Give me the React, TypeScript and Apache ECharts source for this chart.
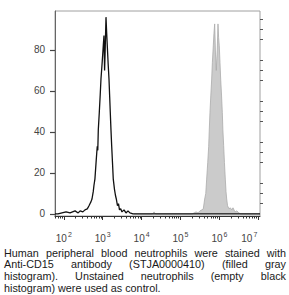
import React, { useEffect, useRef } from "react";
import * as echarts from "echarts";

// log10 of fluorescence intensity and event counts
const unstainedLog = [1.774, 1.851, 1.954, 2.06, 2.16, 2.29, 2.37, 2.42, 2.49, 2.545, 2.604, 2.648, 2.673, 2.70, 2.725, 2.758, 2.776, 2.80, 2.833, 2.848, 2.861, 2.874, 2.887, 2.913, 2.936, 2.956, 2.987, 3.015, 3.033, 3.049, 3.064, 3.085, 3.103, 3.118, 3.141, 3.162, 3.18, 3.195, 3.213, 3.231, 3.252, 3.272, 3.303, 3.329, 3.35, 3.38, 3.406, 3.432, 3.463, 3.496, 3.548, 3.599, 3.65, 3.70, 3.779, 7.044];
const unstainedCount = [0, 0, 0.5, 1, 0.5, 1.5, 0.5, 1.5, 1, 2, 2.5, 4, 5, 6, 7.3, 11, 14, 17, 26, 30, 33, 31, 41, 49.6, 58, 65.8, 74, 82, 87, 70, 80, 96, 88, 82, 73, 65.8, 57, 49.6, 41, 33.3, 25, 17, 12, 9, 7.3, 4, 5, 2, 2.5, 1, 2, 0.5, 1.5, 0.5, 0, 0];

const stainedLog = [3.8, 4.28, 4.32, 4.36, 5.30, 5.35, 5.40, 5.45, 5.50, 5.55, 5.586, 5.622, 5.65, 5.673, 5.70, 5.725, 5.74, 5.758, 5.78, 5.802, 5.82, 5.843, 5.86, 5.879, 5.90, 5.92, 5.945, 5.964, 5.98, 5.997, 6.015, 6.033, 6.055, 6.075, 6.09, 6.11, 6.13, 6.152, 6.17, 6.188, 6.21, 6.247, 6.28, 6.32, 6.35, 6.40, 6.45, 6.50, 6.55, 7.044];
const stainedCount = [0, 0, 1, 0, 0, 0.5, 1, 0.5, 1.5, 2, 2.5, 7.3, 10, 17, 25, 33, 41, 49.6, 58, 65.8, 74, 82, 88, 92.7, 78, 70, 80, 92.7, 86, 82, 74, 65.8, 58, 49.6, 41, 33.3, 25, 17, 11, 7.3, 4, 2.5, 3, 2, 3, 1, 1.5, 0.5, 0, 0];

const xMajorTicks = [2, 3, 4, 5, 6, 7];
const yMajorTicks = [0, 20, 40, 60, 80];
const yMinorTicks = [5, 10, 15, 25, 30, 35, 45, 50, 55, 65, 70, 75, 85, 90, 95];

const CAPTION_LINES = [
  "Human peripheral blood neutrophils were stained with",
  "Anti-CD15 antibody (STJA0000410) (filled gray",
  "histogram). Unstained neutrophils (empty black",
  "histogram) were used as control.",
];

const X_MIN = 1.774;
const X_MAX = 7.044;

function xMinorTicks(): number[] {
  const out: number[] = [];
  for (let d = 1; d <= 6; d++) {
    for (let k = 2; k <= 9; k++) {
      const v = d + Math.log10(k);
      if (v >= X_MIN && v <= X_MAX) out.push(v);
    }
  }
  return out;
}

const FONT = '"Liberation Sans", Arial, Helvetica, sans-serif';

export default function App() {
  const ref = useRef<HTMLDivElement>(null);
  useEffect(() => {
    if (!ref.current) return;
    const chart = echarts.init(ref.current, null, { renderer: "svg" });

    // caption, justified like the original
    const FS = 10.8;
    const LEFT = 4;
    const RIGHT = 286;
    const W = RIGHT - LEFT;
    const canvas = document.createElement("canvas");
    const ctx = canvas.getContext("2d")!;
    ctx.font = `${FS}px "Liberation Sans"`;
    const spaceW = ctx.measureText(" ").width;
    const graphics: any[] = [];
    CAPTION_LINES.forEach((line, i) => {
      const words = line.split(" ");
      const widths = words.map((w) => ctx.measureText(w).width);
      const sum = widths.reduce((a, b) => a + b, 0);
      const last = i === CAPTION_LINES.length - 1;
      const gap = last ? spaceW : (W - sum) / (words.length - 1);
      let x = LEFT;
      const y = 252.8 + i * 11.6;
      words.forEach((w, j) => {
        graphics.push({
          type: "text",
          x,
          y,
          silent: true,
          style: {
            text: w,
            fontSize: FS,
            fontFamily: FONT,
            fill: "#1a1a1a",
            textAlign: "left",
            textVerticalAlign: "middle",
            align: "left",
            verticalAlign: "middle",
          },
        });
        x += widths[j] + gap;
      });
    });

    const axisLabelColor = "#444";
    chart.setOption({
      animation: false,
      grid: {
        left: 55,
        top: 11,
        width: 205,
        height: 205,
        show: true,
        borderColor: "#a0a0a0",
        borderWidth: 1,
        backgroundColor: "transparent",
      },
      xAxis: [
        {
          type: "value",
          min: X_MIN,
          max: X_MAX,
          position: "bottom",
          axisLine: { show: true, onZero: false, lineStyle: { color: "#333", width: 1 } },
          splitLine: { show: false },
          axisTick: { show: true, length: 4, customValues: xMajorTicks, lineStyle: { color: "#333" } },
          axisLabel: {
            show: true,
            customValues: xMajorTicks,
            margin: 15,
            formatter: (v: number) => {
              const e = Math.round(v);
              return e === 7 ? `{b|10}{l|${e}}` : `{b|10}{s|${e}}`;
            },
            rich: {
              b: { fontSize: 10, fontFamily: FONT, color: axisLabelColor },
              s: { fontSize: 7, fontFamily: FONT, color: axisLabelColor, padding: [0, 0, 7, 1] },
              l: { fontSize: 7, fontFamily: FONT, color: axisLabelColor, padding: [0, 18, 7, 1] },
            },
          },
        },
        {
          type: "value",
          min: X_MIN,
          max: X_MAX,
          position: "bottom",
          axisLine: { show: false, onZero: false },
          splitLine: { show: false },
          axisTick: { show: true, length: 2.5, customValues: xMinorTicks(), lineStyle: { color: "#333" } },
          axisLabel: { show: false },
        },
      ],
      yAxis: [
        {
          type: "value",
          min: -1,
          max: 99,
          axisLine: { show: true, onZero: false, lineStyle: { color: "#666" } },
          splitLine: { show: false },
          axisTick: { show: true, length: 5, customValues: yMajorTicks, lineStyle: { color: "#444", width: 1.2 } },
          axisLabel: {
            show: true,
            customValues: yMajorTicks,
            margin: 10,
            fontSize: 10,
            fontFamily: FONT,
            color: axisLabelColor,
            padding: [5, 0, 0, 0],
          },
        },
        {
          type: "value",
          min: -1,
          max: 99,
          axisLine: { show: false, onZero: false },
          splitLine: { show: false },
          axisTick: { show: true, length: 3, customValues: yMinorTicks, lineStyle: { color: "#555" } },
          axisLabel: { show: false },
        },
      ],
      series: [
        {
          type: "line",
          name: "Anti-CD15",
          xAxisIndex: 0,
          yAxisIndex: 0,
          data: stainedLog.map((x, i) => [x, stainedCount[i]]),
          symbol: "none",
          lineStyle: { color: "#ababab", width: 0.8 },
          areaStyle: { color: "#cbcbcb", opacity: 1 },
          z: 2,
        },
        {
          type: "line",
          name: "Unstained",
          xAxisIndex: 0,
          yAxisIndex: 0,
          data: unstainedLog.map((x, i) => [x, unstainedCount[i]]),
          symbol: "none",
          lineStyle: { color: "#111", width: 1.3 },
          z: 3,
        },
      ],
      graphic: graphics,
    });
    return () => chart.dispose();
  }, []);
  return (
    <div
      ref={ref}
      style={{ position: "fixed", left: 0, top: 0, width: 289, height: 295, background: "#fff" }}
    />
  );
}
